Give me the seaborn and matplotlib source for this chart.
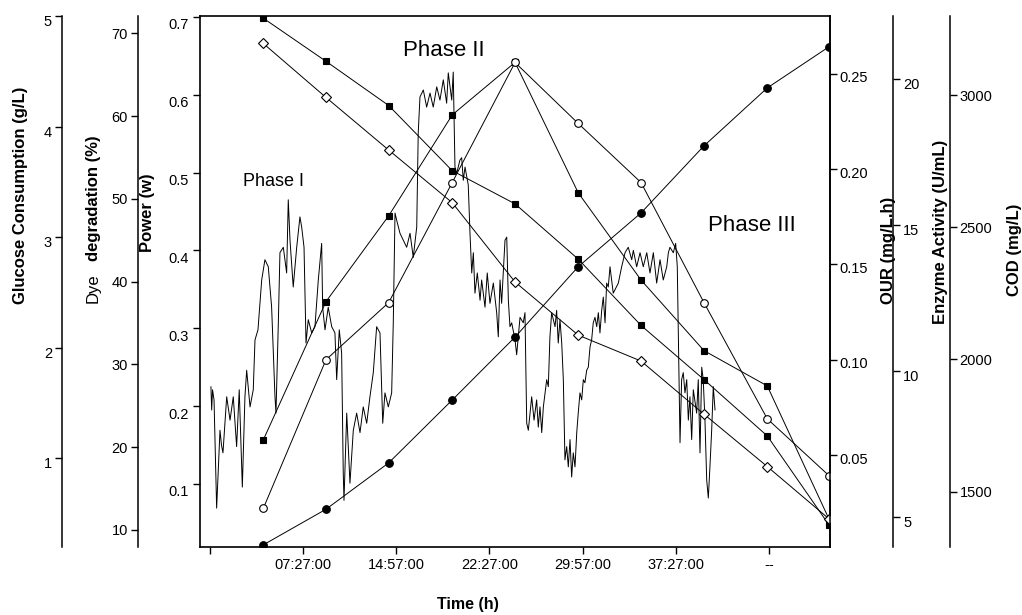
import matplotlib
matplotlib.use("Agg")
import matplotlib.pyplot as plt
from matplotlib.transforms import ScaledTranslation
import seaborn as sns

# on-line power trace: time (h) and power (W)
trace_time = [
    0.06, 0.12, 0.19, 0.31, 0.52, 0.79, 0.91, 1.03, 1.33, 1.60,
    1.86, 2.13, 2.34, 2.59, 2.80, 2.94, 3.21, 3.47, 3.61, 3.85,
    4.15, 4.41, 4.68, 4.95, 5.22, 5.30, 5.49, 5.62, 5.89, 6.16,
    6.29, 6.43, 6.69, 6.97, 7.23, 7.37, 7.56, 7.72, 7.90, 8.18,
    8.44, 8.71, 8.98, 9.06, 9.25, 9.51, 9.79, 10.05, 10.19, 10.40,
    10.59, 10.72, 10.78, 11.00, 11.26, 11.53, 11.80, 12.07, 12.33, 12.61,
    12.87, 13.14, 13.41, 13.68, 13.90, 14.08, 14.35, 14.62, 14.75, 14.89,
    15.02, 15.29, 15.56, 15.83, 16.10, 16.36, 16.64, 16.76, 16.90, 17.17,
    17.44, 17.71, 17.97, 18.25, 18.51, 18.78, 19.05, 19.18, 19.46, 19.58,
    19.72, 19.86, 20.12, 20.26, 20.39, 20.53, 20.79, 20.93, 21.07, 21.20,
    21.33, 21.52, 21.74, 21.87, 22.14, 22.32, 22.54, 22.81, 23.08, 23.21,
    23.35, 23.48, 23.75, 23.89, 24.02, 24.15, 24.29, 24.56, 24.69, 24.96,
    25.22, 25.36, 25.50, 25.63, 25.90, 26.09, 26.30, 26.43, 26.57, 26.71,
    26.84, 27.11, 27.24, 27.37, 27.51, 27.78, 27.91, 28.04, 28.18, 28.32,
    28.45, 28.58, 28.72, 28.85, 28.99, 29.12, 29.25, 29.39, 29.53, 29.65,
    29.79, 29.93, 30.06, 30.19, 30.33, 30.46, 30.60, 30.73, 30.86, 31.00,
    31.14, 31.27, 31.40, 31.54, 31.67, 31.81, 31.94, 32.07, 32.21, 32.47,
    32.88, 33.15, 33.42, 33.68, 33.96, 34.09, 34.36, 34.63, 34.89, 35.17,
    35.43, 35.70, 35.97, 36.24, 36.50, 36.78, 36.91, 37.04, 37.31, 37.50,
    37.63, 37.85, 37.98, 38.11, 38.25, 38.39, 38.52, 38.65, 38.79, 38.92,
    39.19, 39.32, 39.46, 39.60, 39.72, 39.86, 40.00, 40.13, 40.26, 40.40,
    40.53, 40.67,
]
trace_power = [
    0.225, 0.195, 0.221, 0.208, 0.069, 0.169, 0.150, 0.140, 0.212, 0.182,
    0.212, 0.148, 0.221, 0.096, 0.212, 0.246, 0.199, 0.221, 0.285, 0.298,
    0.362, 0.388, 0.379, 0.327, 0.212, 0.191, 0.307, 0.397, 0.404, 0.371,
    0.465, 0.413, 0.353, 0.404, 0.443, 0.430, 0.404, 0.281, 0.311, 0.294,
    0.302, 0.362, 0.409, 0.327, 0.298, 0.327, 0.302, 0.294, 0.234, 0.298,
    0.268, 0.114, 0.079, 0.191, 0.101, 0.169, 0.191, 0.166, 0.199, 0.178,
    0.212, 0.243, 0.302, 0.294, 0.178, 0.217, 0.199, 0.217, 0.307, 0.448,
    0.439, 0.422, 0.413, 0.404, 0.422, 0.391, 0.430, 0.551, 0.597, 0.606,
    0.584, 0.602, 0.584, 0.610, 0.593, 0.619, 0.589, 0.628, 0.593, 0.629,
    0.507, 0.499, 0.516, 0.519, 0.490, 0.507, 0.484, 0.422, 0.371, 0.397,
    0.345, 0.371, 0.336, 0.362, 0.327, 0.371, 0.332, 0.358, 0.320, 0.289,
    0.362, 0.332, 0.413, 0.417, 0.336, 0.302, 0.307, 0.285, 0.266, 0.314,
    0.307, 0.320, 0.178, 0.169, 0.212, 0.182, 0.208, 0.173, 0.199, 0.166,
    0.199, 0.234, 0.225, 0.289, 0.320, 0.302, 0.323, 0.281, 0.311, 0.281,
    0.234, 0.131, 0.148, 0.122, 0.157, 0.109, 0.140, 0.122, 0.166, 0.191,
    0.217, 0.208, 0.234, 0.230, 0.246, 0.250, 0.276, 0.285, 0.307, 0.314,
    0.302, 0.320, 0.294, 0.323, 0.340, 0.307, 0.358, 0.353, 0.379, 0.345,
    0.358, 0.379, 0.397, 0.404, 0.388, 0.400, 0.379, 0.397, 0.379, 0.397,
    0.371, 0.397, 0.358, 0.388, 0.362, 0.379, 0.397, 0.404, 0.397, 0.409,
    0.379, 0.153, 0.234, 0.243, 0.217, 0.234, 0.182, 0.212, 0.157, 0.221,
    0.191, 0.234, 0.140, 0.250, 0.234, 0.182, 0.105, 0.082, 0.122, 0.169,
    0.225, 0.195,
]

# off-line samples
sample_time = [4.28, 9.33, 14.38, 19.50, 24.56, 29.65, 34.71, 39.78, 44.88, 49.88]
dye = [8.2, 12.5, 18.1, 25.7, 33.3, 41.8, 48.3, 56.4, 63.4, 68.4]
glucose = [4.98, 4.59, 4.19, 3.60, 3.30, 2.80, 2.20, 1.71, 1.20, 0.39]
enzyme = [7.63, 12.37, 15.31, 18.77, 20.57, 16.10, 13.11, 10.69, 9.48, 4.89]
our = [0.022, 0.100, 0.130, 0.193, 0.256, 0.224, 0.193, 0.130, 0.069, 0.039]
cod = [3195, 2991, 2792, 2593, 2293, 2092, 1994, 1793, 1595, 1396]

time_ticks = [0, 7.5, 15, 22.5, 30, 37.5, 45]
time_labels = ["", "07:27:00", "14:57:00", "22:27:00", "29:57:00", "37:27:00", "--"]

sns.set_style("ticks", {"axes.edgecolor": "black", "text.color": "black",
                        "xtick.color": "black", "ytick.color": "black",
                        "axes.labelcolor": "black"})
plt.rcParams["font.family"] = ["Liberation Sans", "DejaVu Sans"]

fig = plt.figure(figsize=(10.22, 6.15), dpi=100)
ax = fig.add_axes([0.1957, 0.1111, 0.6164, 0.8629])

lw = 0.7
sns.lineplot(x=trace_time, y=trace_power, ax=ax, color="black", linewidth=lw,
             sort=False, estimator=None)

def twin(side, pos):
    a = ax.twinx()
    for s in a.spines.values():
        s.set_visible(False)
    a.spines[side].set_visible(True)
    a.spines[side].set_position(("axes", pos))
    a.spines[side].set_linewidth(1.1)
    if side == "left":
        a.yaxis.set_ticks_position("left")
    else:
        a.yaxis.set_ticks_position("right")
    return a

# creation order = drawing order (open circles end up on top)
ax_glu = twin("left", -0.2195)
ax_dye = twin("left", -0.0989)
ax_enz = twin("right", 1.1005)
ax_cod = twin("right", 1.1905)
ax_our = twin("right", 1.0)

def series(a, y, marker, face, ms):
    sns.lineplot(x=sample_time, y=y, ax=a, color="black", linewidth=lw,
                 marker=marker, markersize=ms, markerfacecolor=face,
                 markeredgecolor="black", markeredgewidth=0.8)

series(ax_cod, cod, "D", "white", 5)
series(ax_glu, glucose, "s", "black", 5)
series(ax_enz, enzyme, "s", "black", 5)
series(ax_our, our, "o", "white", 5.5)
series(ax_dye, dye, "o", "black", 5.5)

ax.set_xlim(-0.82, 49.93)
ax.set_ylim(0.0195, 0.701)
ax_glu.set_ylim(0.198, 4.997)
ax_dye.set_ylim(7.98, 72.09)
ax_our.set_ylim(0.0019, 0.2804)
ax_enz.set_ylim(3.97, 22.16)
ax_cod.set_ylim(1292, 3299)

ax.set_xticks(time_ticks)
ax.set_xticklabels(time_labels)
ax.set_yticks([0.1, 0.2, 0.3, 0.4, 0.5, 0.6, 0.7])
ax.set_yticklabels(["0.1", "0.2", "0.3", "0.4", "0.5", "0.6", "0.7"])
ax_glu.set_yticks([1, 2, 3, 4, 5])
ax_dye.set_yticks([10, 20, 30, 40, 50, 60, 70])
ax_our.set_yticks([0.05, 0.10, 0.15, 0.20, 0.25])
ax_our.set_yticklabels(["0.05", "0.10", "0.15", "0.20", "0.25"])
ax_enz.set_yticks([5, 10, 15, 20])
ax_cod.set_yticks([1500, 2000, 2500, 3000])

for s in ax.spines.values():
    s.set_linewidth(1.2)
ax.tick_params(axis="both", direction="out", length=5, width=1, labelsize=10.5, pad=3)
for a in [ax_glu, ax_dye, ax_our, ax_enz, ax_cod]:
    a.tick_params(axis="y", direction="out", length=5, width=1, labelsize=10.5, pad=2)
    a.set_ylabel("")
ax.set_xlabel("")
ax.set_ylabel("")

# tick labels in the original sit a little below their ticks
for a, dy in [(ax, 7), (ax_glu, 4.5), (ax_enz, 4.5), (ax_our, 3)]:
    for lab in a.get_yticklabels():
        lab.set_transform(lab.get_transform() +
                          ScaledTranslation(0, -dy / 100, fig.dpi_scale_trans))

ax.text(5.14, 0.488, "Phase I", fontsize=13, ha="center", va="center")
ax.text(18.84, 0.657, "Phase II", fontsize=16, ha="center", va="center")
ax.text(43.6, 0.4325, "Phase III", fontsize=16, ha="center", va="center")

lab = dict(rotation=90, ha="center", va="center", fontsize=12, fontweight="bold")
fig.text(0.0205, 0.683, "Glucose Consumption (g/L)", **lab)
fig.text(0.091, 0.678, "degradation (%)", **lab)
fig.text(0.091, 0.532, "Dye", rotation=90, ha="center", va="center", fontsize=12)
fig.text(0.1443, 0.6537, "Power (w)", **lab)
fig.text(0.8689, 0.5935, "OUR (mg/L.h)", **lab)
fig.text(0.9198, 0.6228, "Enzyme Activity (U/mL)", **lab)
fig.text(0.9922, 0.5935, "COD (mg/L)", **lab)
fig.text(0.458, 0.0163, "Time (h)", ha="center", va="center", fontsize=11.5,
         fontweight="bold")

fig.savefig("out.png", dpi=100)
